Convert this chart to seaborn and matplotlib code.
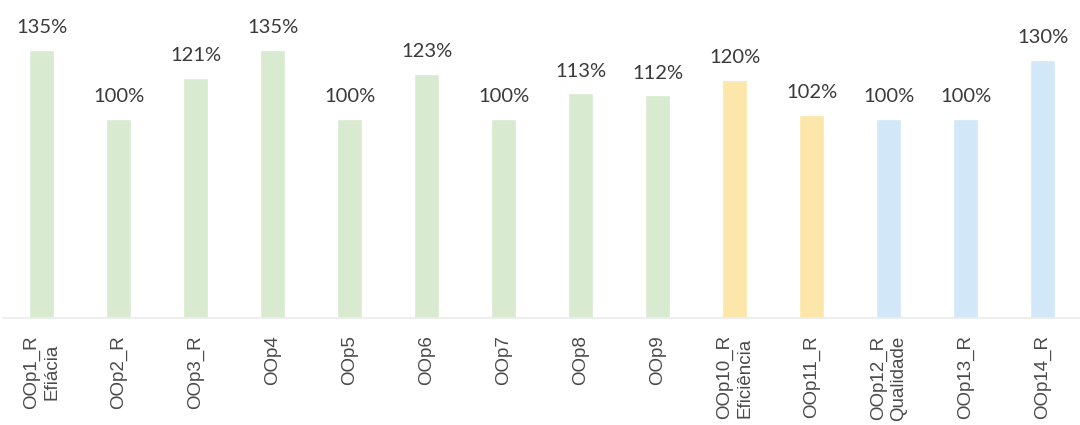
import matplotlib
matplotlib.use("Agg")
import matplotlib.pyplot as plt
import seaborn as sns
import pandas as pd

# Indicator results by operational objective
categories = ["OOp1_R\nEfiácia", "OOp2_R", "OOp3_R", "OOp4", "OOp5", "OOp6", "OOp7",
              "OOp8", "OOp9", "OOp10_R\nEficiência", "OOp11_R", "OOp12_R\nQualidade",
              "OOp13_R", "OOp14_R"]
values = [135, 100, 121, 135, 100, 123, 100, 113, 112, 120, 102, 100, 100, 130]
groups = ["Eficácia"] * 9 + ["Eficiência"] * 2 + ["Qualidade"] * 3
group_colors = {"Eficácia": "#d8eacf", "Eficiência": "#fce6a9", "Qualidade": "#d2e7f8"}

df = pd.DataFrame({"categoria": categories, "valor": values, "grupo": groups})

sns.set_theme(style="white")
plt.rcParams["font.family"] = ["Liberation Sans", "DejaVu Sans"]

fig = plt.figure(figsize=(10.8, 4.25), dpi=100)
ax = fig.add_axes([0.003, 1 - 318 / 425, 0.998, 318 / 425])

sns.barplot(data=df, x="categoria", y="valor", hue="grupo", palette=group_colors,
            dodge=False, width=0.33, legend=False, ax=ax, saturation=1)

ax.set_ylim(0, 160)
ax.set_xlim(-0.5, len(categories) - 0.5)

for i, v in enumerate(values):
    ax.annotate(f"{v}%", xy=(i, v), xytext=(0, 10), textcoords="offset points",
                ha="center", va="bottom", fontsize=14.5, color="#3a3a3a",
                family=["Lato", "DejaVu Sans"])

ax.set_xlabel("")
ax.set_ylabel("")
ax.set_yticks([])
for side in ["top", "left", "right"]:
    ax.spines[side].set_visible(False)
ax.spines["bottom"].set_color("#ebebeb")
ax.spines["bottom"].set_linewidth(1.2)

ax.tick_params(axis="x", length=0, pad=12.5)
for lab in ax.get_xticklabels():
    lab.set_rotation(90)
    lab.set_fontsize(13.5)
    lab.set_color("#4a4a4a")
    lab.set_multialignment("center")
    lab.set_va("top")
    lab.set_ha("center")

fig.savefig("out.png", dpi=100, facecolor="white")
